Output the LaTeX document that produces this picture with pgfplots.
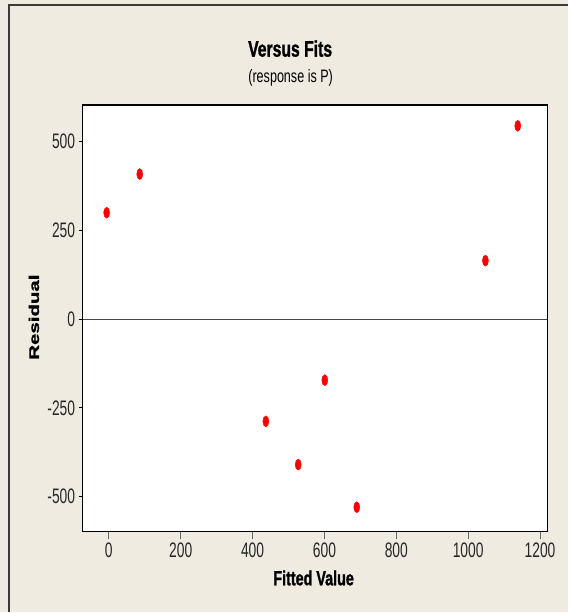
\documentclass[border=0pt]{standalone}
\usepackage{pgfplots}
\pgfplotsset{compat=1.18}
\usepackage{fontspec}
\setmainfont{Liberation Sans}
\newfontfamily\narrowfont[FakeStretch=0.66]{Liberation Sans}
\newfontfamily\titlefont[FakeStretch=0.70, BoldFeatures={FakeBold=1.2}]{Liberation Sans}
\newfontfamily\widefont[FakeStretch=1.46, BoldFeatures={FakeBold=1.2}]{Liberation Sans}
\definecolor{bgbeige}{HTML}{EFEBE1}
\definecolor{framegray}{HTML}{3A3A3A}
\definecolor{zerogray}{HTML}{454545}
\definecolor{ptred}{HTML}{FF0000}
\begin{document}
\begin{tikzpicture}[x=1pt,y=1pt]
\fill[bgbeige] (0,0) rectangle (569,613);
\draw[framegray, line width=1.5pt] (9,0) -- (9,608) -- (569,608);
\begin{axis}[
  at={(82.7pt,81pt)}, anchor=south west,
  width=465.2pt, height=427pt, scale only axis,
  xmin=-73, xmax=1220, ymin=-598, ymax=604,
  axis background/.style={fill=white},
  axis line style={black, line width=1.3pt},
  xtick={0,200,400,600,800,1000,1200},
  ytick={-500,-250,0,250,500},
  tick align=outside, xtick pos=bottom, ytick pos=left,
  xtick style={gray!80!black, line width=1pt, /pgfplots/major tick length=8pt},
  ytick style={black, line width=1pt, /pgfplots/major tick length=4pt},
  /pgf/number format/assume math mode=true,
  /pgf/number format/1000 sep={},
  scaled ticks=false,
  tick label style={font=\narrowfont\fontsize{21}{21}\selectfont, text=black!85},
  xticklabel style={inner sep=0pt, anchor=north, yshift=-7pt},
  yticklabel style={inner sep=0pt, anchor=east, xshift=-3pt},
  clip=false,
]
\addplot[zerogray, line width=1.3pt, forget plot] coordinates {(-73,0) (1220,0)};
\addplot[only marks, mark=*, mark size=5.5pt, color=ptred,
  mark options={xscale=0.55, draw=ptred, fill=ptred}] coordinates {
  (-6,300) (86,409) (437,-288) (527,-410) (601,-172) (690,-530) (1048,165) (1138,545)
};
\end{axis}
\node[anchor=base, inner sep=0pt] at (290.5,556.3) {\titlefont\bfseries\fontsize{22.5}{22.5}\selectfont Versus Fits};
\node[anchor=base, inner sep=0pt] at (291,530.3) {\titlefont\fontsize{18}{18}\selectfont (response is P)};
\node[anchor=base, inner sep=0pt] at (314,27) {\titlefont\bfseries\fontsize{20.5}{20.5}\selectfont Fitted Value};
\node[rotate=90, anchor=center, inner sep=0pt] at (34,295.5) {\widefont\bfseries\fontsize{14}{14}\selectfont Residual};
\end{tikzpicture}
\end{document}
